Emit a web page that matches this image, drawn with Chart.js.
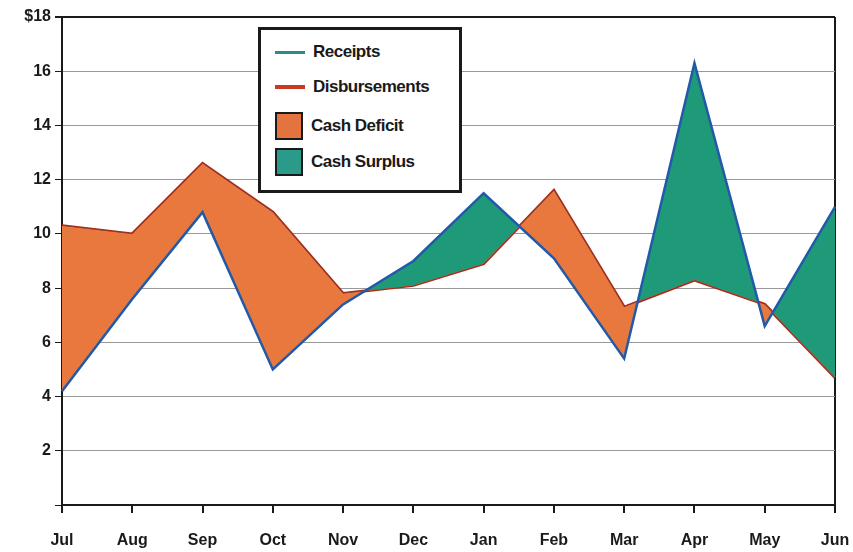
<!DOCTYPE html>
<html>
<head>
<meta charset="utf-8">
<script src="https://cdn.jsdelivr.net/npm/chart.js@4"></script>
<style>
  html, body { margin: 0; padding: 0; background: #fff; }
  #wrap { position: relative; width: 853px; height: 552px; }
  #legend {
    position: absolute; left: 258px; top: 27px; width: 198px; height: 160px;
    border: 3px solid #1a1a1a; background: #fff;
    font-family: "Liberation Sans", Arial, sans-serif; font-weight: bold; color: #1a1a1a;
  }
  .item { position: absolute; left: 14px; height: 28px; display: flex; align-items: center; }
  .item span { font-size: 17px; letter-spacing: -0.5px; margin-left: 8px; }
  .line { width: 30px; height: 4px; }
  .box { width: 24px; height: 24px; border: 2px solid #1a1a1a; }
</style>
</head>
<body>
<div id="wrap">
  <canvas id="cashChart" width="853" height="552"></canvas>
  <div id="legend">
    <div class="item" style="top:8px"><div class="line" style="background:#2a8a8c;height:3px"></div><span>Receipts</span></div>
    <div class="item" style="top:43px"><div class="line" style="background:#c8391e"></div><span>Disbursements</span></div>
    <div class="item" style="top:82px"><div class="box" style="background:#e3743e"></div><span>Cash Deficit</span></div>
    <div class="item" style="top:118px"><div class="box" style="background:#2a9a8a"></div><span>Cash Surplus</span></div>
  </div>
</div>
<script>
const months = ['Jul', 'Aug', 'Sep', 'Oct', 'Nov', 'Dec', 'Jan', 'Feb', 'Mar', 'Apr', 'May', 'Jun'];
const receipts = [4.2, 7.6, 10.8, 5.0, 7.4, 9.0, 11.5, 9.1, 5.4, 16.3, 6.6, 11.0];
const disbursements = [10.3, 10.0, 12.6, 10.8, 7.8, 8.1, 8.9, 11.6, 7.3, 8.3, 7.4, 4.7];

const ctx = document.getElementById('cashChart').getContext('2d');
new Chart(ctx, {
    type: 'line',
    data: {
        labels: months,
        datasets: [{
            label: 'Receipts',
            data: receipts,
            borderColor: '#2259a8',
            borderWidth: 2.5,
            pointRadius: 0,
            tension: 0,
            fill: { target: 1, above: '#1f9a78', below: '#e8783e' }
        }, {
            label: 'Disbursements',
            data: disbursements,
            borderColor: '#a82a1c',
            borderWidth: 3,
            pointRadius: 0,
            tension: 0,
            fill: false
        }]
    },
    options: {
        responsive: false,
        animation: false,
        layout: { padding: { top: 17, right: 18, left: 0, bottom: 0 } },
        plugins: { legend: { display: false }, tooltip: { enabled: false } },
        scales: {
            x: {
                offset: false,
                afterFit: (scale) => {
                    scale.height = 47;
                    scale.paddingLeft = 0;
                    scale.paddingRight = 0;
                },
                border: { color: '#1a1a1a', width: 2 },
                grid: {
                    color: (c) => c.index === months.length - 1 ? '#1a1a1a' : 'transparent',
                    lineWidth: 2,
                    tickColor: '#1a1a1a',
                    tickLength: 8
                },
                ticks: {
                    color: '#1a1a1a',
                    padding: 18,
                    maxRotation: 0,
                    autoSkip: false,
                    font: { family: 'Liberation Sans', weight: 'bold', size: 16 }
                }
            },
            y: {
                min: 0,
                max: 18,
                afterFit: (scale) => { scale.width = 62; },
                border: { color: '#1a1a1a', width: 2 },
                grid: {
                    color: (c) => c.tick.value === 18 ? '#1a1a1a' : (c.tick.value === 0 ? 'transparent' : '#999'),
                    lineWidth: (c) => c.tick.value === 18 ? 2 : 1,
                    tickColor: '#1a1a1a',
                    tickLength: 7
                },
                ticks: {
                    stepSize: 2,
                    color: '#1a1a1a',
                    padding: 4,
                    font: { family: 'Liberation Sans', weight: 'bold', size: 16 },
                    callback: (v) => v === 0 ? '' : (v === 18 ? '$18' : v)
                }
            }
        }
    }
});
</script>
</body>
</html>
